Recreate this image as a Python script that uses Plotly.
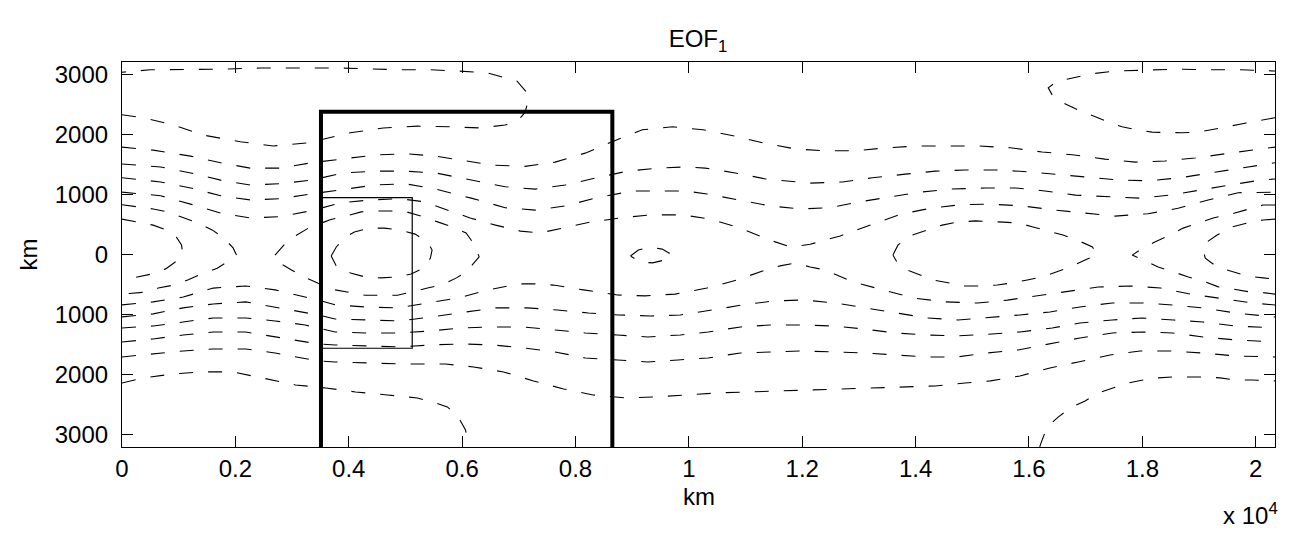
import plotly.graph_objects as go

# x in units of 10^4 km, y in km (contour lines)
u1_left_x = [0.000, 0.038, 0.091, 0.144, 0.209, 0.267, 0.327, 0.403, 0.461, 0.521, 0.579, 0.632, 0.676, 0.699, 0.711, 0.717, 0.715, 0.697, 0.671, 0.644, 0.591, 0.544, 0.491, 0.438, 0.385, 0.315, 0.244, 0.174, 0.103, 0.050, 0.000]
u1_left_y = [2330, 2280, 2160, 1990, 1880, 1810, 1860, 2030, 2110, 2140, 2130, 2110, 2160, 2240, 2370, 2580, 2690, 2890, 2960, 3030, 3060, 3080, 3080, 3090, 3110, 3110, 3110, 3090, 3090, 3080, 3040]

u1_right_x = [2.034, 2.008, 1.981, 1.955, 1.925, 1.899, 1.870, 1.844, 1.817, 1.791, 1.764, 1.740, 1.713, 1.687, 1.660, 1.641, 1.634, 1.650, 1.685, 1.708, 1.752, 1.805, 1.863, 1.920, 1.972, 2.034]
u1_right_y = [2280, 2240, 2190, 2140, 2080, 2040, 2030, 2030, 2040, 2080, 2130, 2210, 2310, 2410, 2530, 2660, 2780, 2890, 2960, 3010, 3060, 3080, 3090, 3080, 3080, 3060]

row_a_x = [0.000, 0.055, 0.121, 0.174, 0.226, 0.279, 0.334, 0.390, 0.447, 0.500, 0.553, 0.607, 0.653, 0.711, 0.764, 0.817, 0.867, 0.918, 0.971, 1.025, 1.078, 1.131, 1.188, 1.240, 1.293, 1.350, 1.403, 1.461, 1.510, 1.567, 1.623, 1.680, 1.734, 1.788, 1.840, 1.893, 1.951, 2.008, 2.034]
row_a_y = [1790, 1740, 1640, 1530, 1440, 1440, 1530, 1590, 1660, 1680, 1640, 1560, 1490, 1470, 1540, 1690, 1890, 2080, 2130, 2080, 1980, 1860, 1760, 1730, 1730, 1780, 1810, 1810, 1810, 1780, 1710, 1660, 1590, 1540, 1560, 1610, 1690, 1760, 1790]

row_b_x = [0.000, 0.068, 0.121, 0.174, 0.226, 0.279, 0.334, 0.390, 0.447, 0.500, 0.553, 0.616, 0.676, 0.729, 0.782, 0.838, 0.891, 0.944, 0.994, 1.029, 1.082, 1.135, 1.188, 1.214, 1.271, 1.324, 1.382, 1.435, 1.487, 1.544, 1.597, 1.655, 1.708, 1.761, 1.814, 1.867, 1.920, 1.972, 2.034]
row_b_y = [1510, 1460, 1360, 1240, 1160, 1180, 1240, 1360, 1390, 1390, 1360, 1240, 1130, 1090, 1160, 1280, 1390, 1440, 1460, 1440, 1360, 1260, 1210, 1190, 1210, 1280, 1340, 1390, 1410, 1410, 1380, 1330, 1280, 1240, 1230, 1280, 1360, 1440, 1530]

row_c_x = [0.000, 0.068, 0.121, 0.174, 0.226, 0.279, 0.334, 0.390, 0.447, 0.500, 0.553, 0.616, 0.676, 0.729, 0.782, 0.835, 0.900, 0.950, 0.994, 1.032, 1.085, 1.143, 1.196, 1.249, 1.302, 1.355, 1.408, 1.461, 1.523, 1.576, 1.628, 1.682, 1.738, 1.796, 1.849, 1.902, 1.955, 2.008, 2.034]
row_c_y = [1280, 1210, 1110, 980, 910, 930, 1010, 1090, 1160, 1180, 1090, 940, 780, 740, 810, 940, 1060, 1060, 1060, 1010, 910, 810, 760, 780, 880, 960, 1040, 1090, 1110, 1110, 1060, 990, 960, 940, 990, 1080, 1160, 1240, 1260]

row_d_x = [0.000, 0.068, 0.121, 0.174, 0.226, 0.279, 0.334, 0.385, 0.438, 0.491, 0.532, 0.570, 0.614, 0.659, 0.703, 0.738, 0.778, 0.826, 0.879, 0.932, 0.990, 1.038, 1.091, 1.143, 1.179, 1.214, 1.267, 1.320, 1.373, 1.426, 1.479, 1.532, 1.588, 1.646, 1.699, 1.752, 1.810, 1.863, 1.916, 1.969, 2.034]
row_d_y = [1040, 980, 840, 690, 610, 630, 730, 860, 910, 930, 880, 760, 610, 490, 390, 360, 440, 540, 610, 660, 660, 590, 440, 240, 125, 170, 310, 490, 670, 770, 830, 840, 810, 740, 690, 640, 680, 770, 910, 1030, 1040]

e_left_x = [0.000, 0.055, 0.080, 0.108, 0.133, 0.159, 0.179, 0.196, 0.202, 0.191, 0.168, 0.144, 0.117, 0.091, 0.064, 0.038, 0.000]
e_left_y = [830, 760, 710, 610, 530, 410, 280, 110, -10, -90, -230, -310, -420, -510, -560, -630, -660]

f_left_x = [0.000, 0.055, 0.078, 0.096, 0.105, 0.107, 0.099, 0.077, 0.050, 0.024, 0.000]
f_left_y = [590, 490, 410, 290, 160, 25, -90, -240, -330, -380, -430]

oval_x = [0.270, 0.278, 0.293, 0.329, 0.367, 0.394, 0.422, 0.450, 0.475, 0.502, 0.533, 0.558, 0.583, 0.607, 0.622, 0.630, 0.607, 0.590, 0.563, 0.539, 0.486, 0.429, 0.399, 0.376, 0.346, 0.325, 0.299, 0.278, 0.270]
oval_y = [-10, 75, 240, 440, 580, 640, 710, 725, 725, 710, 625, 540, 460, 360, 160, -40, -290, -390, -510, -560, -680, -680, -630, -590, -480, -390, -260, -140, -10]

inner_x = [0.369, 0.378, 0.394, 0.410, 0.435, 0.463, 0.489, 0.517, 0.539, 0.547, 0.544, 0.535, 0.510, 0.486, 0.457, 0.429, 0.403, 0.378, 0.369]
inner_y = [-25, 125, 290, 375, 440, 440, 410, 340, 210, 75, -60, -210, -325, -375, -390, -375, -310, -190, -25]

small_x = [0.897, 0.911, 0.932, 0.953, 0.971, 0.958, 0.936, 0.914, 0.897]
small_y = [-25, 75, 125, 90, -10, -90, -140, -125, -25]

big_x = [1.360, 1.369, 1.394, 1.420, 1.447, 1.473, 1.505, 1.555, 1.581, 1.607, 1.634, 1.660, 1.685, 1.712, 1.720, 1.699, 1.673, 1.650, 1.623, 1.597, 1.570, 1.544, 1.514, 1.487, 1.457, 1.431, 1.408, 1.385, 1.367, 1.360]
big_y = [-10, 160, 325, 410, 490, 540, 560, 540, 525, 460, 390, 325, 240, 125, -10, -90, -210, -290, -375, -425, -475, -508, -525, -525, -475, -425, -340, -258, -125, -10]

e_right_x = [2.034, 2.013, 1.981, 1.951, 1.925, 1.899, 1.872, 1.849, 1.822, 1.796, 1.782, 1.801, 1.828, 1.855, 1.881, 1.907, 1.934, 1.960, 1.990, 2.017, 2.034]
e_right_y = [825, 825, 740, 660, 610, 525, 440, 325, 210, 75, -10, -90, -210, -290, -375, -440, -540, -575, -625, -640, -660]

f_right_x = [2.034, 2.013, 1.985, 1.958, 1.932, 1.911, 1.907, 1.911, 1.932, 1.960, 1.985, 2.013, 2.034]
f_right_y = [590, 575, 525, 460, 325, 190, 75, -60, -210, -290, -360, -390, -410]

row_l3_x = [0.000, 0.055, 0.108, 0.161, 0.218, 0.270, 0.323, 0.346, 0.376, 0.429, 0.487, 0.539, 0.593, 0.646, 0.699, 0.733, 0.761, 0.814, 0.874, 0.923, 0.976, 1.032, 1.085, 1.135, 1.161, 1.188, 1.214, 1.240, 1.290, 1.343, 1.396, 1.452, 1.509, 1.562, 1.614, 1.669, 1.722, 1.779, 1.832, 1.884, 1.937, 1.994, 2.034]
row_l3_y = [-840, -790, -710, -560, -525, -590, -710, -760, -840, -875, -890, -810, -725, -590, -490, -490, -510, -590, -675, -690, -660, -560, -425, -258, -190, -142, -208, -258, -458, -592, -725, -790, -810, -760, -690, -608, -542, -525, -558, -658, -725, -808, -842]

row_l4_x = [0.000, 0.055, 0.108, 0.161, 0.218, 0.270, 0.323, 0.346, 0.376, 0.429, 0.491, 0.544, 0.597, 0.659, 0.715, 0.768, 0.823, 0.876, 0.932, 0.985, 1.041, 1.094, 1.149, 1.202, 1.258, 1.311, 1.367, 1.420, 1.475, 1.526, 1.584, 1.637, 1.690, 1.747, 1.800, 1.853, 1.907, 1.964, 2.034]
row_l4_y = [-1040, -990, -890, -825, -790, -875, -958, -1008, -1075, -1092, -1108, -1042, -975, -890, -890, -925, -975, -1008, -1025, -1008, -925, -842, -775, -758, -808, -892, -975, -1058, -1092, -1058, -1008, -958, -875, -808, -808, -842, -892, -975, -1042]

row_l5_x = [0.000, 0.055, 0.108, 0.161, 0.218, 0.270, 0.323, 0.346, 0.376, 0.429, 0.491, 0.544, 0.600, 0.655, 0.708, 0.764, 0.817, 0.874, 0.927, 0.985, 1.034, 1.091, 1.143, 1.200, 1.255, 1.308, 1.364, 1.417, 1.473, 1.535, 1.584, 1.641, 1.690, 1.747, 1.800, 1.855, 1.907, 1.964, 2.034]
row_l5_y = [-1225, -1192, -1125, -1058, -1058, -1108, -1175, -1225, -1292, -1308, -1308, -1275, -1225, -1208, -1208, -1258, -1308, -1342, -1375, -1342, -1292, -1208, -1175, -1175, -1192, -1242, -1308, -1342, -1358, -1325, -1292, -1225, -1142, -1092, -1058, -1092, -1125, -1192, -1225]

row_l6_x = [0.000, 0.055, 0.108, 0.161, 0.218, 0.270, 0.323, 0.346, 0.376, 0.429, 0.491, 0.544, 0.600, 0.655, 0.708, 0.764, 0.817, 0.874, 0.927, 0.981, 1.034, 1.091, 1.143, 1.200, 1.255, 1.308, 1.364, 1.417, 1.473, 1.526, 1.581, 1.637, 1.690, 1.747, 1.800, 1.853, 1.907, 1.964, 2.034]
row_l6_y = [-1458, -1408, -1342, -1292, -1292, -1375, -1458, -1492, -1508, -1525, -1542, -1508, -1492, -1508, -1558, -1625, -1725, -1758, -1792, -1758, -1725, -1642, -1625, -1608, -1625, -1642, -1675, -1708, -1708, -1642, -1592, -1492, -1392, -1308, -1292, -1308, -1375, -1425, -1458]

row_l7_x = [0.000, 0.055, 0.108, 0.161, 0.218, 0.270, 0.323, 0.346, 0.376, 0.429, 0.491, 0.570, 0.620, 0.673, 0.726, 0.779, 0.831, 0.888, 0.941, 0.997, 1.052, 1.105, 1.161, 1.214, 1.271, 1.325, 1.378, 1.435, 1.487, 1.532, 1.584, 1.637, 1.687, 1.743, 1.796, 1.849, 1.905, 1.964, 2.034]
row_l7_y = [-1708, -1658, -1608, -1575, -1575, -1642, -1742, -1775, -1792, -1808, -1825, -1825, -1875, -1958, -2108, -2242, -2342, -2392, -2375, -2342, -2308, -2292, -2275, -2258, -2242, -2225, -2208, -2192, -2142, -2108, -2025, -1892, -1792, -1675, -1608, -1608, -1642, -1692, -1708]

l8_left_x = [0.000, 0.038, 0.089, 0.142, 0.196, 0.249, 0.306, 0.359, 0.412, 0.468, 0.521, 0.547, 0.574, 0.593, 0.606, 0.611, 0.612]
l8_left_y = [-2142, -2058, -1992, -1958, -1958, -2058, -2175, -2225, -2292, -2342, -2392, -2458, -2542, -2708, -2925, -3175, -3210]

l8_right_x = [1.619, 1.620, 1.632, 1.652, 1.673, 1.699, 1.722, 1.749, 1.775, 1.801, 1.828, 1.855, 1.884, 1.911, 1.937, 1.964, 1.994, 2.034]
l8_right_y = [-3210, -3175, -2875, -2708, -2558, -2442, -2308, -2225, -2142, -2092, -2058, -2042, -2042, -2042, -2058, -2092, -2092, -2108]

# selection boxes
box_x = [0.351, 0.351, 0.865, 0.865]
box_y = [-3210, 2380, 2380, -3210]
rect_x = [0.351, 0.351, 0.512, 0.512, 0.351]
rect_y = [-1563, 947, 947, -1563, -1563]

x_tick_vals = [0, 0.2, 0.4, 0.6, 0.8, 1.0, 1.2, 1.4, 1.6, 1.8, 2.0]
x_tick_text = ["0", "0.2", "0.4", "0.6", "0.8", "1", "1.2", "1.4", "1.6", "1.8", "2"]
y_tick_vals = [3000, 2000, 1000, 0, -1000, -2000, -3000]
y_tick_text = ["3000", "2000", "1000", "0", "1000", "2000", "3000"]

contours = [
    (u1_left_x, u1_left_y), (u1_right_x, u1_right_y),
    (row_a_x, row_a_y), (row_b_x, row_b_y), (row_c_x, row_c_y), (row_d_x, row_d_y),
    (e_left_x, e_left_y), (f_left_x, f_left_y), (oval_x, oval_y), (inner_x, inner_y),
    (small_x, small_y), (big_x, big_y), (e_right_x, e_right_y), (f_right_x, f_right_y),
    (row_l3_x, row_l3_y), (row_l4_x, row_l4_y), (row_l5_x, row_l5_y), (row_l6_x, row_l6_y),
    (row_l7_x, row_l7_y), (l8_left_x, l8_left_y), (l8_right_x, l8_right_y),
]

fig = go.Figure()
for cx, cy in contours:
    fig.add_trace(go.Scatter(x=cx, y=cy, mode="lines",
                             line=dict(color="black", width=1.1, dash="14px,15px"),
                             hoverinfo="skip", showlegend=False))

fig.add_trace(go.Scatter(x=rect_x, y=rect_y, mode="lines",
                         line=dict(color="black", width=1.2), showlegend=False, hoverinfo="skip"))
fig.add_trace(go.Scatter(x=box_x, y=box_y, mode="lines",
                         line=dict(color="black", width=4), showlegend=False, hoverinfo="skip"))

font_family = "Liberation Sans, Arial, Helvetica, sans-serif"
fs = 24
fig.update_layout(
    width=1289, height=533,
    margin=dict(l=122, r=14, t=62, b=86),
    paper_bgcolor="white", plot_bgcolor="white",
    font=dict(family=font_family, size=fs, color="black"),
    title=dict(text="EOF<sub>1</sub>", x=0.5415, xanchor="center", y=0.928, yanchor="middle",
               font=dict(size=fs, color="black")),
    showlegend=False,
)
fig.update_xaxes(range=[0, 2.034], tickvals=x_tick_vals, ticktext=x_tick_text,
                 ticks="inside", ticklen=11, tickwidth=1, tickcolor="black",
                 showline=True, linecolor="black", linewidth=1.2, mirror="ticks",
                 showgrid=False, zeroline=False, tickfont=dict(size=fs))
fig.update_yaxes(range=[-3210, 3210], tickvals=y_tick_vals, ticktext=y_tick_text,
                 ticks="inside", ticklen=11, tickwidth=1, tickcolor="black",
                 showline=True, linecolor="black", linewidth=1.2, mirror="ticks",
                 showgrid=False, zeroline=False, ticklabelstandoff=8, tickfont=dict(size=fs),
                 title=dict(text="km", standoff=10, font=dict(size=fs)))

fig.add_annotation(text="km", xref="paper", yref="paper",
                   x=0.5, y=-0.128, xanchor="center", yanchor="middle", showarrow=False,
                   font=dict(size=fs))
fig.add_annotation(text="x 10<sup>4</sup>", xref="paper", yref="paper",
                   x=1.004, y=-0.13, xanchor="right", yanchor="top", showarrow=False,
                   font=dict(size=fs))

fig.write_html("out.html")
